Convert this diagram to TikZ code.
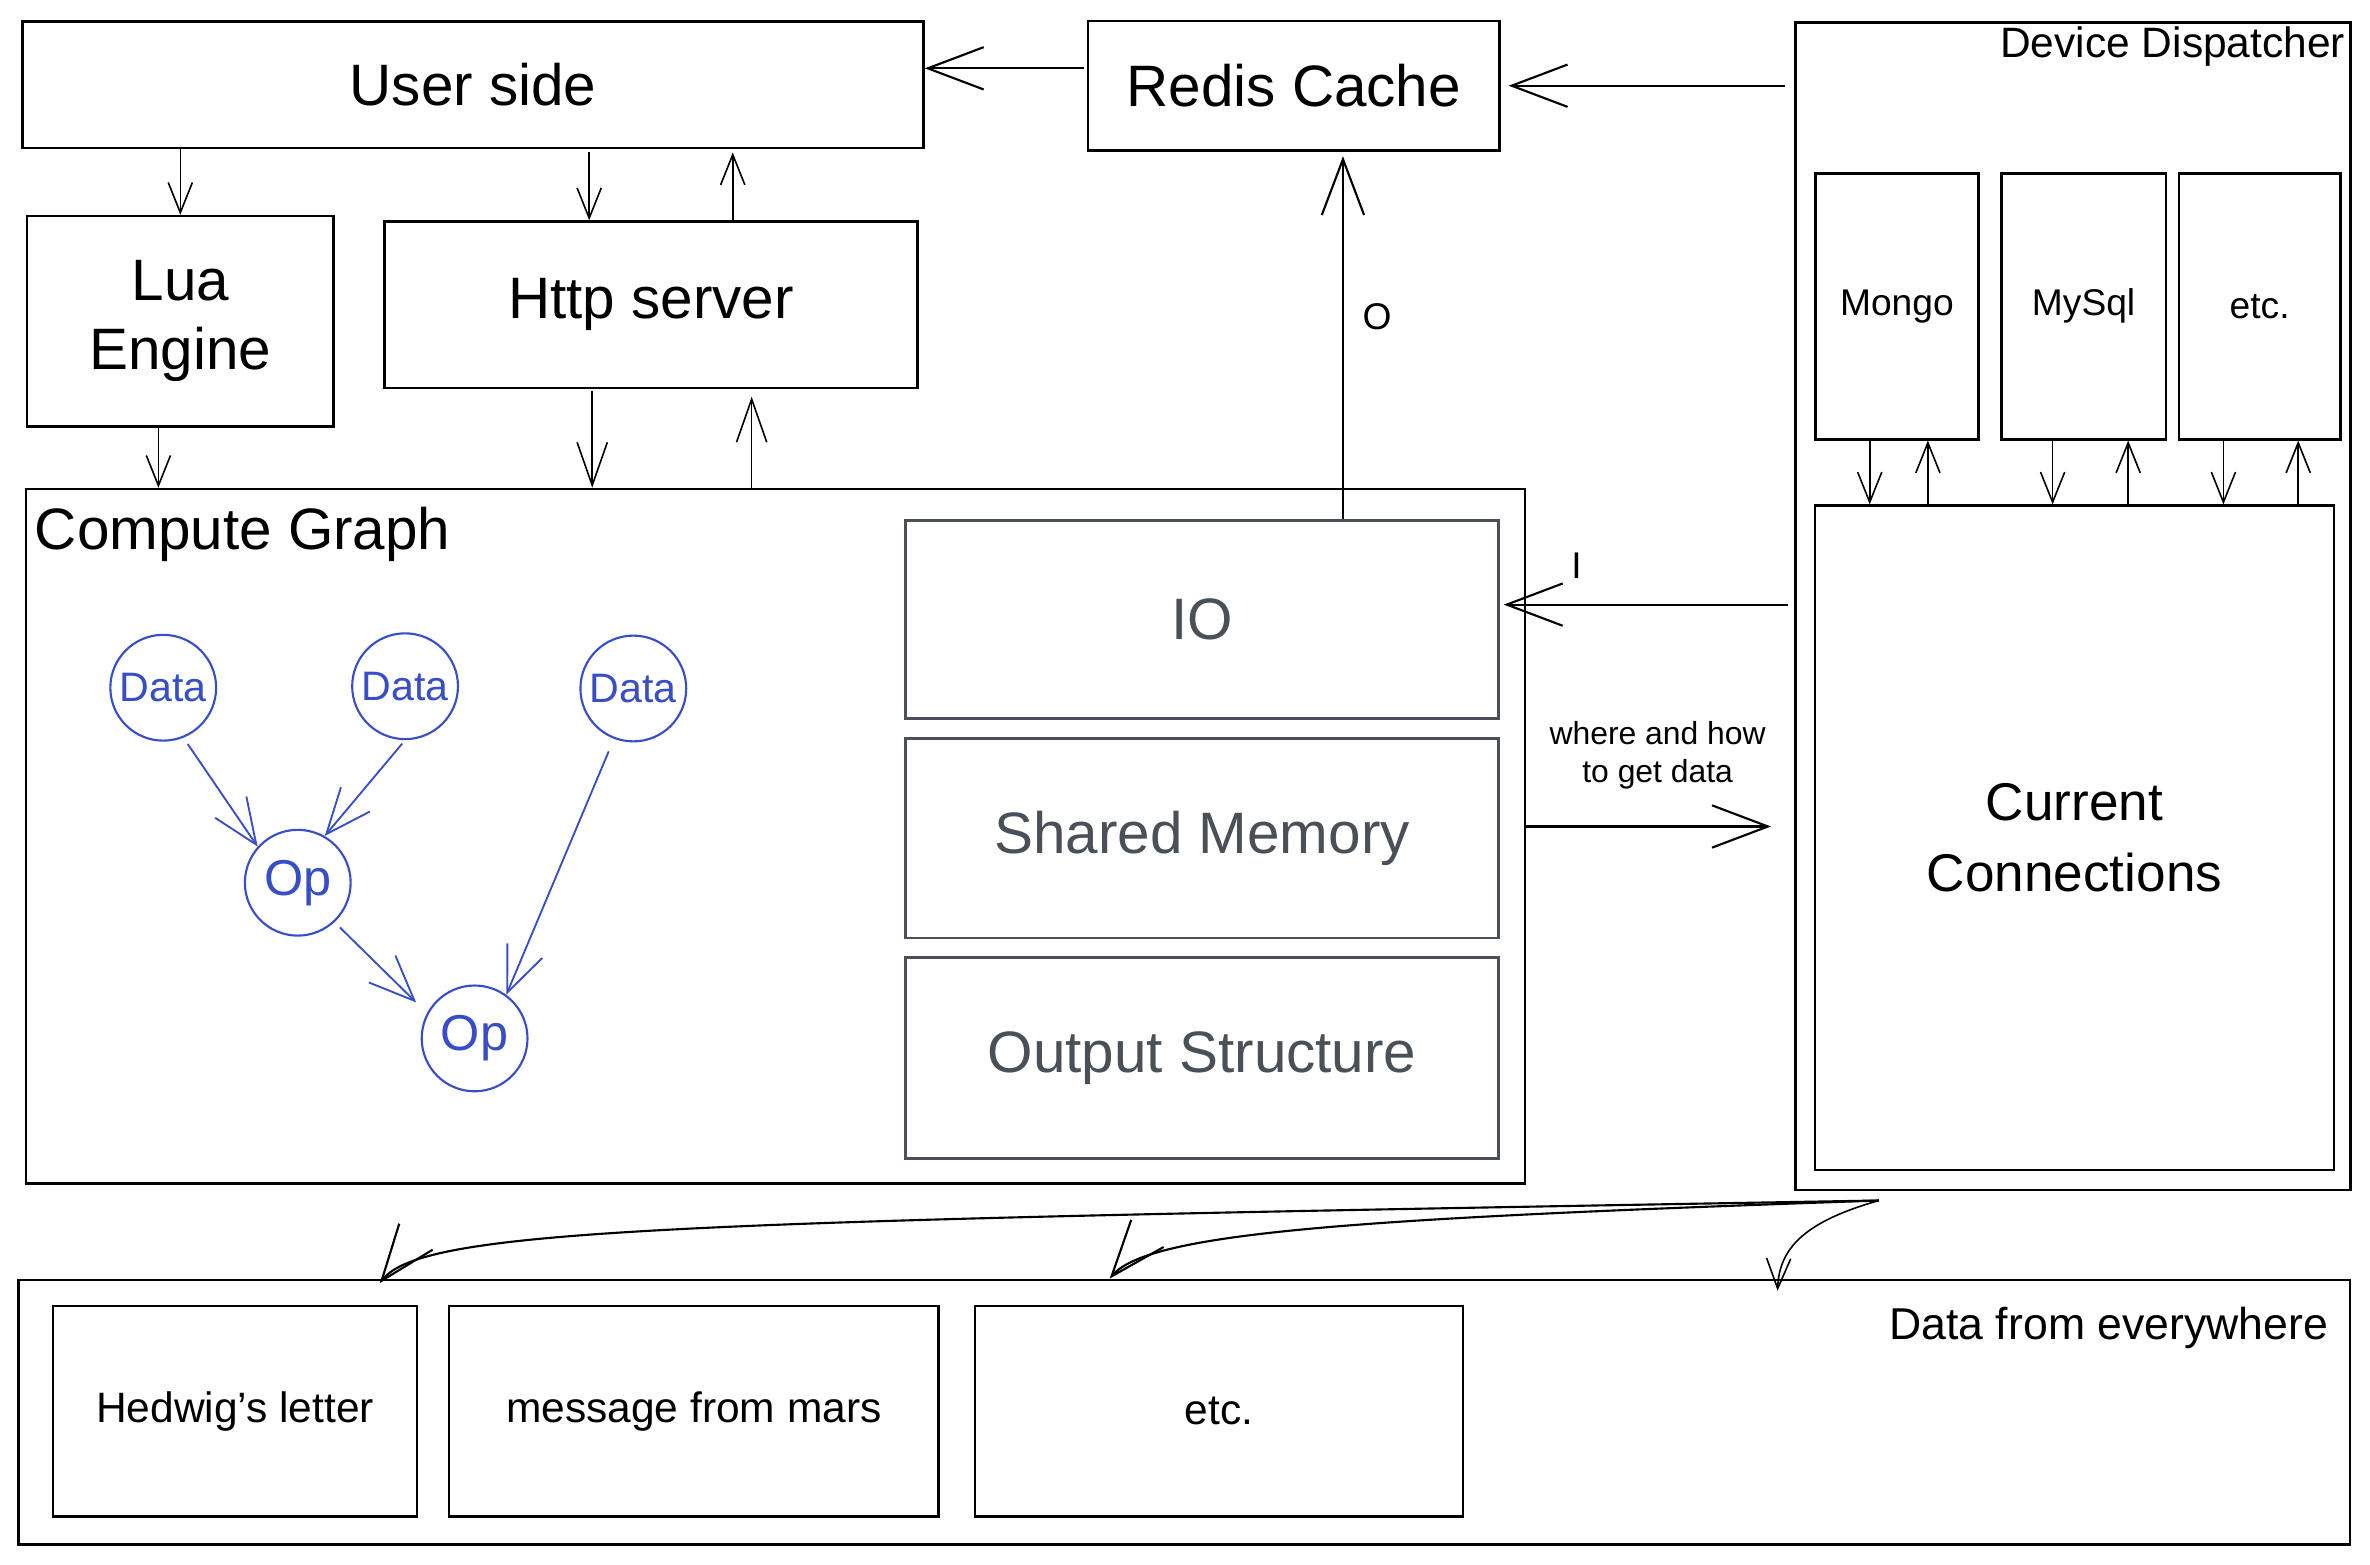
\documentclass[tikz,border=0pt]{standalone}
\usepackage{fontspec}
\setmainfont{Liberation Sans}
\usetikzlibrary{arrows.meta}

\definecolor{datenblau}{RGB}{55,78,200}
\definecolor{dunkelgrau}{RGB}{73,80,87}

\tikzset{
    kasten/.style={draw,rectangle,line width=1pt,inner sep=2pt},
    grauerkasten/.style={kasten,draw=dunkelgrau,text=dunkelgrau},
    kreis/.style={draw=datenblau,text=datenblau,circle,line width=0.8pt,minimum size=1.4cm,inner sep=0pt,font=\fontsize{15.5}{18}\selectfont},
    gross/.style={font=\fontsize{22}{26}\selectfont},
    mittel/.style={font=\fontsize{16}{19}\selectfont},
    klein/.style={font=\fontsize{14}{17}\selectfont},
    pfeil/.style={-{Straight Barb[length=0.4cm,width=0.32cm]},line width=0.6pt},
    pfeilm/.style={-{Straight Barb[length=0.57cm,width=0.4cm]},line width=0.6pt},
    pfeilg/.style={-{Straight Barb[length=0.74cm,width=0.56cm]},line width=0.8pt},
    pfeilblau/.style={-{Straight Barb[length=0.6cm,width=0.5cm]},line width=0.7pt,draw=datenblau}
}

\begin{document}
\begin{tikzpicture}[x=0.02cm,y=-0.02cm]
    \useasboundingbox (0,0) rectangle (1568,1035);

    % Obere Reihe
    \node[kasten,gross,minimum width=11.92cm,minimum height=1.68cm] (usr) at (313,56) {User side};
    \node[kasten,gross,minimum width=5.45cm,minimum height=1.71cm] (redis) at (856,56.7) {Redis Cache};
    \node[kasten,gross,align=center,minimum width=4.06cm,minimum height=2.78cm] (lua) at (119.3,212.5) {Lua\\Engine};
    \node[kasten,gross,minimum width=7.05cm,minimum height=2.2cm] (http) at (430.8,201.6) {Http server};

    % Compute Graph
    \node[kasten,minimum width=19.84cm,minimum height=9.19cm] (cg) at (513,553.3) {};
    \node[gross,anchor=base west,inner sep=0pt] (cglabel) at ([xshift=0.13cm,yshift=-0.82cm]cg.north west) {Compute Graph};
    \node[grauerkasten,gross,minimum width=7.85cm,minimum height=2.62cm] (io) at (795.3,410) {IO};
    \node[grauerkasten,gross,minimum width=7.85cm,minimum height=2.64cm] (shm) at (795.3,554.5) {Shared Memory};
    \node[grauerkasten,gross,minimum width=7.85cm,minimum height=2.66cm] (outs) at (795.3,700) {Output Structure};

    % Graph aus Daten und Operatoren
    \node[kreis] (d1) at (108,455) {Data};
    \node[kreis] (d2) at (268,454) {Data};
    \node[kreis] (d3) at (419,455.5) {Data};
    \node[kreis,font=\fontsize{19}{22}\selectfont] (op1) at (197,584) {Op};
    \node[kreis,font=\fontsize{19}{22}\selectfont] (op2) at (314,687) {Op};
    \draw[pfeilblau,shorten <=0.1cm] (d1.-68) -- (op1.138);
    \draw[pfeilblau,shorten <=0.06cm] (d2.-90) -- (op1.60);
    \draw[pfeilblau,shorten <=0.1cm,shorten >=0.2cm] (op1.-47) -- (op2.152);
    \draw[pfeilblau,shorten <=0.18cm] (d3.-111) -- (op2.54);

    % Device Dispatcher
    \node[kasten,minimum width=7.34cm,minimum height=15.45cm] (dd) at (1371.5,401.2) {};
    \node[font=\fontsize{16}{19}\selectfont,anchor=base east,inner sep=0pt] (ddlabel) at ([xshift=-0.08cm,yshift=-0.48cm]dd.north east) {Device Dispatcher};
    \node[kasten,klein,minimum width=2.16cm,minimum height=3.52cm] (mongo) at (1255,202.6) {Mongo};
    \node[kasten,klein,minimum width=2.18cm,minimum height=3.52cm] (mysql) at (1378.5,202.6) {MySql};
    \node[kasten,klein,minimum width=2.14cm,minimum height=3.52cm] (etcdb) at (1495,202.6) {etc.};
    \node[kasten,font=\fontsize{20}{27}\selectfont,align=center,minimum width=6.87cm,minimum height=8.79cm] (cc) at (1372.5,554.3) {Current\\Connections};

    % Data from everywhere
    \node[kasten,minimum width=30.86cm,minimum height=3.5cm] (everywhere) at (783.5,934.3) {};
    \node[font=\fontsize{16.8}{20}\selectfont,anchor=base east,inner sep=0pt] (evlabel) at ([xshift=-0.3cm,yshift=-0.8cm]everywhere.north east) {Data from everywhere};
    \node[kasten,mittel,minimum width=4.82cm,minimum height=2.79cm] (hedwig) at (155.5,933.7) {Hedwig's letter};
    \node[kasten,mittel,minimum width=6.48cm,minimum height=2.79cm] (mars) at (459,933.7) {message from mars};
    \node[kasten,mittel,minimum width=6.46cm,minimum height=2.79cm] (etcdata) at (806.5,933.7) {etc.};

    % Pfeile oben
    \draw[pfeilg,shorten <=0.04cm] ([yshift=0.23cm]redis.west) -- ([yshift=0.23cm]redis.west -| usr.east);
    \draw[pfeilg,shorten <=0.12cm,shorten >=0.1cm] (dd.west |- redis.east) -- (redis.east);
    \draw[pfeil] (lua.north |- usr.south) -- (lua.north);
    \draw[pfeil,shorten <=0.04cm] ([xshift=-0.82cm]http.north |- usr.south) -- ([xshift=-0.82cm]http.north);
    \draw[pfeil,shorten >=0.04cm] ([xshift=1.08cm]http.north) -- ([xshift=1.08cm]http.north |- usr.south);
    \draw[pfeil] ([xshift=-0.29cm]lua.south) -- ([xshift=-0.29cm]lua.south |- cg.north);
    \draw[pfeilm,shorten <=0.03cm] ([xshift=-0.78cm]http.south) -- ([xshift=-0.78cm]http.south |- cg.north);
    \draw[pfeilm,shorten >=0.1cm] ([xshift=1.33cm]http.south |- cg.north) -- ([xshift=1.33cm]http.south);

    % Pfeile IO und Verbindungen
    \draw[pfeilg,shorten >=0.06cm] ([xshift=0.65cm]redis.south |- io.north) -- node[klein,pos=0.55,right=0.13cm] (olabel) {O} ([xshift=0.65cm]redis.south);
    \draw[pfeilg,shorten <=0.08cm,shorten >=0.05cm] ([yshift=0.2cm]io.east -| dd.west) -- node[klein,pos=0.74,above=0.22cm] (ilabel) {I} ([yshift=0.2cm]io.east);
    \draw[pfeilg,shorten >=0.31cm] ([yshift=0.13cm]cg.east) -- node[font=\fontsize{12}{14.5}\selectfont,align=center,pos=0.49,above=0.36cm] (wolabel) {where and how\\to get data} ([yshift=0.13cm]cg.east -| dd.west);
    \foreach \db/\runter/\hoch in {mongo/-0.36/0.41, mysql/-0.41/0.59, etcdb/-0.48/0.51} {
        \draw[pfeil] ([xshift=\runter cm]\db.south) -- ([xshift=\runter cm]\db.south |- cc.north);
        \draw[pfeil] ([xshift=\hoch cm]\db.south |- cc.north) -- ([xshift=\hoch cm]\db.south);
    }

    % Pfeile nach unten
    \coordinate (ddaus) at ([xshift=-2.57cm,yshift=-0.12cm]dd.south);
    \coordinate (ziel1) at ([xshift=4.8cm,yshift=-0.06cm]everywhere.north west);
    \coordinate (ziel2) at ([xshift=14.46cm]everywhere.north west);
    \coordinate (ziel3) at ([xshift=23.3cm,yshift=-0.16cm]everywhere.north west);
    \draw[pfeilg] (ddaus) .. controls (450,808) and (280,812) .. (ziel1);
    \draw[pfeilg] (ddaus) .. controls (900,806) and (760,815) .. (ziel2);
    \draw[pfeil] (ddaus) .. controls (1195,808) and (1177,825) .. (ziel3);

\end{tikzpicture}
\end{document}
